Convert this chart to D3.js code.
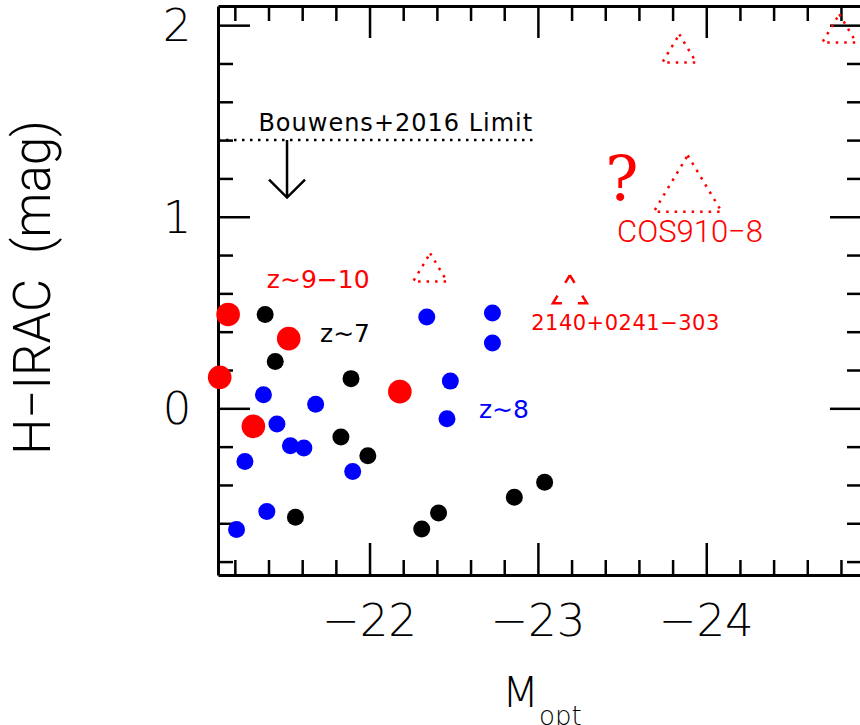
<!DOCTYPE html>
<html>
<head>
<meta charset="utf-8">
<title>H-IRAC vs M_opt</title>
<script src="https://d3js.org/d3.v7.min.js"></script>
<style>
 body { margin: 0; background: #fff; }
 svg { display: block; }
 .axis path { stroke: #000; stroke-width: 3; fill: none; }
 .axis line { stroke: #000; stroke-width: 2.5; }
 .tick text { display: none; }
 .lab { font-family: "DejaVu Sans", sans-serif; font-weight: 200; }
 .note { font-family: "DejaVu Sans", sans-serif; font-weight: 400; }
 .ttl { font-family: Roboto, "Liberation Sans", sans-serif; font-weight: 300; white-space: pre; }
</style>
</head>
<body>
<div id="chart"></div>
<script>
// z~7 (black)
var z7Mopt  = [-21.38, -21.44, -21.89, -21.83, -21.99, -21.56, -22.31, -22.41, -22.86, -23.04];
var z7Color = [0.49, 0.245, 0.155, -0.15, -0.247, -0.569, -0.63, -0.546, -0.464, -0.386];
// z~8 (blue)
var z8Mopt  = [-22.34, -21.37, -21.68, -21.45, -21.53, -21.61, -21.26, -21.90, -21.39, -21.21, -22.73, -22.73, -22.48, -22.46];
var z8Color = [0.477, 0.071, 0.021, -0.082, -0.195, -0.207, -0.277, -0.33, -0.538, -0.633, 0.497, 0.341, 0.142, -0.054];
// z~9-10 (red)
var z910Mopt  = [-21.16, -21.52, -21.11, -21.31, -22.18];
var z910Color = [0.49, 0.364, 0.162, -0.094, 0.087];
// bright sources (triangles)
var triMopt  = [-23.84, -24.79, -23.89, -22.36, -23.19];
var triColor = [1.854, 1.959, 1.124, 0.711, 0.597];
var triName  = ["", "", "COS910-8", "", "2140+0241-303"];

var xTicks = [-22, -23, -24];
var yTicks = [0, 1, 2];
var bouwensLimit = 1.4;

var width = 860, height = 725;
var margin = {top: 6, right: -2, bottom: 150, left: 218};

var x = d3.scaleLinear().domain([-21.1, -24.925]).range([margin.left, width - margin.right]);
var y = d3.scaleLinear().domain([-0.87, 2.1]).range([height - margin.bottom, margin.top]);

var svg = d3.select("#chart").append("svg")
  .attr("width", width)
  .attr("height", height);

var minor = function(sc, step) {
  var d = sc.domain(), lo = Math.min(d[0], d[1]), hi = Math.max(d[0], d[1]);
  var out = [];
  for (var v = Math.ceil(lo / step) * step; v <= hi + 1e-9; v += step) {
    if (Math.abs(v - Math.round(v)) > 1e-6) out.push(+v.toFixed(3));
  }
  return out;
};

var x0 = x.range()[0], x1 = x.range()[1], y0 = y.range()[0], y1 = y.range()[1];

// frame: major + minor ticks on all four sides, pointing in
[
  [d3.axisBottom, "translate(0," + y0 + ")", x],
  [d3.axisTop, "translate(0," + y1 + ")", x],
  [d3.axisLeft, "translate(" + x0 + ",0)", y],
  [d3.axisRight, "translate(" + x1 + ",0)", y]
].forEach(function(a) {
  var sc = a[2];
  var major = sc === x ? xTicks : yTicks;
  svg.append("g").attr("class", "axis").attr("transform", a[1])
    .call(a[0](sc).tickValues(major).tickSizeInner(-32).tickSizeOuter(0).tickFormat(""));
  svg.append("g").attr("class", "axis").attr("transform", a[1])
    .call(a[0](sc).tickValues(minor(sc, 0.2)).tickSizeInner(-15).tickSizeOuter(0).tickFormat(""))
    .select(".domain").remove();
});

var fmt = d3.format("d");

svg.selectAll(".xl").data(xTicks).enter().append("text")
  .attr("class", "lab")
  .attr("x", function(d) { return x(d); })
  .attr("y", 636)
  .attr("text-anchor", "middle")
  .style("font-size", "45px")
  .text(function(d) { return fmt(d); });

svg.selectAll(".yl").data(yTicks).enter().append("text")
  .attr("class", "lab")
  .attr("x", 177)
  .attr("y", function(d) { return y(d) + 16; })
  .attr("text-anchor", "middle")
  .style("font-size", "45px")
  .text(function(d) { return fmt(d); });

// axis titles
svg.append("text")
  .attr("class", "ttl")
  .attr("transform", "translate(50," + ((y0 + y1) / 2 - 3) + ") rotate(-90)")
  .attr("text-anchor", "middle")
  .style("font-size", "51px")
  .text("H\u2212IRAC  (mag)");

var xt = svg.append("text")
  .attr("class", "lab")
  .attr("x", 502)
  .attr("y", 707)
  .style("font-size", "43px");
xt.append("tspan").text("M");
xt.append("tspan").attr("dy", 18).style("font-size", "26px").text("opt");

// Bouwens+2016 limit
svg.append("line")
  .attr("x1", x(-21.1)).attr("x2", x(-23.0))
  .attr("y1", y(bouwensLimit)).attr("y2", y(bouwensLimit))
  .attr("stroke", "#000").attr("stroke-width", 2.5)
  .attr("stroke-dasharray", "2.5,5.5");

svg.append("text")
  .attr("class", "note")
  .attr("x", x(-21.34)).attr("y", y(1.447))
  .style("font-size", "24px").style("letter-spacing", "1px")
  .text("Bouwens+2016 Limit");

var ax = x(-21.51), ayTop = y(bouwensLimit), ayBot = y(1.1);
svg.append("path")
  .attr("d", "M" + ax + "," + ayTop + "V" + ayBot +
             "M" + (ax - 18) + "," + (ayBot - 18) + "L" + ax + "," + ayBot + "L" + (ax + 18) + "," + (ayBot - 18))
  .attr("fill", "none").attr("stroke", "#000").attr("stroke-width", 2.5);

// points
function dots(xs, ys, color, r) {
  svg.append("g").selectAll("circle")
    .data(xs.map(function(d, i) { return [d, ys[i]]; }))
    .enter().append("circle")
    .attr("cx", function(d) { return x(d[0]); })
    .attr("cy", function(d) { return y(d[1]); })
    .attr("r", r)
    .attr("fill", color);
}
dots(z7Mopt, z7Color, "#000", 8.5);
dots(z8Mopt, z8Color, "#0000ff", 8.5);
dots(z910Mopt, z910Color, "#ff0000", 11.8);

// triangles
var triW = [34, 34, 68, 34, 34];
var triDash = [false, false, false, false, true];
triMopt.forEach(function(m, i) {
  var cx = x(m), cy = y(triColor[i]), w = triW[i], h = w * 0.83;
  var pts = [[cx, cy - 2 * h / 3], [cx + w / 2, cy + h / 3], [cx - w / 2, cy + h / 3]];
  var p = svg.append("path")
    .attr("d", "M" + pts.join("L") + "Z")
    .attr("fill", "none").attr("stroke", "#ff0000").attr("stroke-width", 2.5);
  if (triDash[i]) {
    var side = Math.hypot(w / 2, h), dl = 9;
    p.attr("stroke-dasharray", [dl, side - 2 * dl, 2 * dl, w - 2 * dl, 2 * dl, side - 2 * dl, dl].join(","));
  } else {
    p.attr("stroke-dasharray", "2.5,6");
  }
});

// annotations
var notes = [
  {t: "z\u223C9\u221210", m: -21.39, c: 0.628, col: "#ff0000", fs: 25, cls: "note"},
  {t: "z\u223C7", m: -21.706, c: 0.347, col: "#000", fs: 25, cls: "note"},
  {t: "z\u223C8", m: -22.65, c: -0.05, col: "#0000ff", fs: 25, cls: "note"},
  {t: triName[4].replace(/-/g, "\u2212"), m: -22.96, c: 0.409, col: "#ff0000", fs: 21, cls: "note", ls: 0.5},
  {t: triName[2].replace(/-/g, "\u2212"), m: -23.47, c: 0.868, col: "#ff0000", fs: 31, cls: "ttl"}
];
notes.forEach(function(n) {
  svg.append("text")
    .attr("class", n.cls)
    .attr("x", x(n.m)).attr("y", y(n.c))
    .attr("fill", n.col)
    .style("font-size", n.fs + "px")
    .style("letter-spacing", (n.ls || 0) + "px")
    .text(n.t);
});

svg.append("text")
  .attr("x", x(-23.40)).attr("y", y(1.087))
  .attr("fill", "#ff0000")
  .style("font-family", "'DejaVu Serif', 'Liberation Serif', serif")
  .style("font-size", "62px")
  .text("?");
</script>
</body>
</html>
